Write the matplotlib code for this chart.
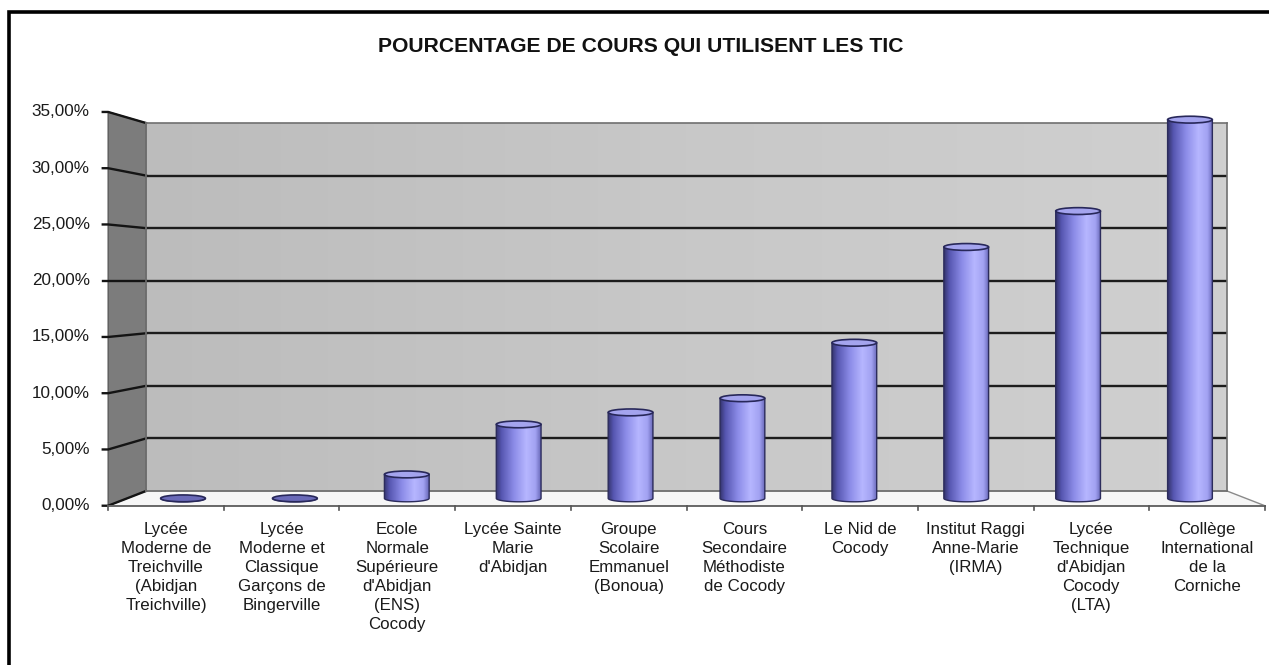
import numpy as np
import matplotlib
matplotlib.use('Agg')
import matplotlib.pyplot as plt
from matplotlib.colors import LinearSegmentedColormap
from matplotlib.patches import Polygon, PathPatch, Ellipse, Rectangle
from matplotlib.path import Path
from matplotlib.transforms import blended_transform_factory

plt.rcParams['font.family'] = ['Liberation Sans', 'DejaVu Sans']

# ------------------------------------------------------------------------------
# Data
#
title = 'POURCENTAGE DE COURS QUI UTILISENT LES TIC'
schools = [
    "Lycée\nModerne de\nTreichville\n(Abidjan\nTreichville)",
    "Lycée\nModerne et\nClassique\nGarçons de\nBingerville",
    "Ecole\nNormale\nSupérieure\nd'Abidjan\n(ENS)\nCocody",
    "Lycée Sainte\nMarie\nd'Abidjan",
    "Groupe\nScolaire\nEmmanuel\n(Bonoua)",
    "Cours\nSecondaire\nMéthodiste\nde Cocody",
    "Le Nid de\nCocody",
    "Institut Raggi\nAnne-Marie\n(IRMA)",
    "Lycée\nTechnique\nd'Abidjan\nCocody\n(LTA)",
    "Collège\nInternational\nde la\nCorniche",
]
percent = [0.0, 0.0, 2.2, 6.8, 7.9, 9.2, 14.3, 23.1, 26.4, 34.8]
yticks = [0, 5, 10, 15, 20, 25, 30, 35]
ytick_labels = ['0,00%', '5,00%', '10,00%', '15,00%', '20,00%', '25,00%',
                '30,00%', '35,00%']

# ------------------------------------------------------------------------------
# Fake 3D: the axes is the back wall, front things are scaled about a
# vanishing point
#
VP_X, VP_Y = 5.0, 20.0
FRONT = 1.07   # scale of the front edge
MID = 1.035    # scale where the cylinders stand
ncat = len(schools)
ymax = yticks[-1]


def proj(x, y, s):
    return VP_X + (x - VP_X) * s, VP_Y + (y - VP_Y) * s


fig = plt.figure(figsize=(12.69, 6.65), dpi=100)
ax = fig.add_axes([146 / 1269, (665 - 491) / 665, 1081 / 1269, 368 / 665])
ax.set_autoscale_on(False)
ax.set_xlim(0, ncat)
ax.set_ylim(0, ymax)
ax.set_xticks([])
ax.set_yticks([])
for sp in ax.spines.values():
    sp.set_color('#707070')
    sp.set_linewidth(1.2)

# back wall
wall_cmap = LinearSegmentedColormap.from_list('wall', ['#bcbcbc', '#c8c8c8',
                                                       '#d0d0d0'])
ax.imshow(np.linspace(0, 1, 256).reshape(1, -1), extent=[0, ncat, 0, ymax],
          cmap=wall_cmap, aspect='auto', zorder=0)
for v in yticks[1:-1]:
    ax.plot([0, ncat], [v, v], color='#1c1c1c', lw=1.7, zorder=1)

# side wall
fx0, fy0 = proj(0, 0, FRONT)
fx1, fy1 = proj(0, ymax, FRONT)
ax.add_patch(Polygon([(fx0, fy0), (fx1, fy1), (0, ymax), (0, 0)],
                     closed=True, facecolor='#7c7c7c', edgecolor='#5a5a5a',
                     lw=1.0, clip_on=False, zorder=1))
for v, lab in zip(yticks, ytick_labels):
    px, py = proj(0, v, FRONT)
    ax.plot([px - 0.05, px, 0], [py, py, v], color='#141414', lw=1.7,
            clip_on=False, zorder=2)
    ax.text(px - 0.17, py, lab, ha='right', va='center', fontsize=12.3,
            color='#1a1a1a', clip_on=False)

# floor
bx0, by0 = proj(ncat, 0, FRONT)
ax.add_patch(Polygon([(0, 0), (ncat, 0), (bx0, by0), (fx0, fy0)],
                     closed=True, facecolor='#f6f6f6', edgecolor='#8a8a8a',
                     lw=1.0, clip_on=False, zorder=1))
ax.plot([fx0, bx0], [fy0, by0], color='#6a6a6a', lw=1.4, clip_on=False,
        zorder=2)
for i in range(ncat + 1):
    tx, ty = proj(i, 0, FRONT)
    ax.plot([tx, tx], [ty, ty - 0.45], color='#555555', lw=1.2,
            clip_on=False, zorder=2)

# ------------------------------------------------------------------------------
# Cylinders
#
cyl_cmap = LinearSegmentedColormap.from_list(
    'cyl', [(0.0, '#34346e'), (0.12, '#5656b0'), (0.4, '#8c8ce8'),
            (0.68, '#b6b6ff'), (0.88, '#a2a2f2'), (1.0, '#6868b8')])
grad = np.linspace(0, 1, 256).reshape(1, -1)
bar_w = 0.40 * MID
ell_h = 0.65

for i, v in enumerate(percent):
    cx, yb = proj(i + 0.5, 0, MID)
    _, yt = proj(i + 0.5, v, MID)
    x0, x1 = cx - bar_w / 2, cx + bar_w / 2
    th = np.linspace(np.pi, 2 * np.pi, 60)
    arc = np.column_stack([cx + bar_w / 2 * np.cos(th),
                           yb + ell_h / 2 * np.sin(th)])
    verts = np.vstack([[(x0, yt)], arc, [(x1, yt)], [(x0, yt)]])
    codes = [Path.MOVETO] + [Path.LINETO] * (len(verts) - 2) + [Path.CLOSEPOLY]
    body = PathPatch(Path(verts, codes), facecolor='none', edgecolor='#2c2c5c',
                     lw=1.0, clip_on=False, zorder=4)
    ax.add_patch(body)
    im = ax.imshow(grad, extent=[x0, x1, yb - ell_h / 2, yt], cmap=cyl_cmap,
                   aspect='auto', zorder=3)
    # the bottom of the cylinder sits below the back wall, so clip to the
    # figure and the cylinder outline only
    im.set_clip_box(fig.bbox)
    im.set_clip_path(body)
    top_col = '#a4a4ee' if v > 0 else '#6a6ab8'
    ax.add_patch(Ellipse((cx, yt), bar_w, ell_h, facecolor=top_col,
                         edgecolor='#28285a', lw=1.2, clip_on=False,
                         zorder=5))

# ------------------------------------------------------------------------------
# Texts and frame
#
lab_tr = blended_transform_factory(ax.transData, fig.transFigure)
for i, name in enumerate(schools):
    lx, _ = proj(i + 0.5, 0, FRONT)
    ax.text(lx, 1 - 522 / 665, name, transform=lab_tr, ha='center', va='top',
            fontsize=12.2, linespacing=1.34, color='#1a1a1a', clip_on=False)

fig.text(641 / 1269, 1 - 46 / 665, title, ha='center', va='center',
         fontsize=15.2, fontweight='bold', color='#111111')

fig.patches.append(Rectangle((8.5 / 1269, -0.05), 1.1, 1 - 11.5 / 665 + 0.05,
                             transform=fig.transFigure, fill=False,
                             edgecolor='black', lw=2.6))

fig.savefig('out.png', dpi=100)
